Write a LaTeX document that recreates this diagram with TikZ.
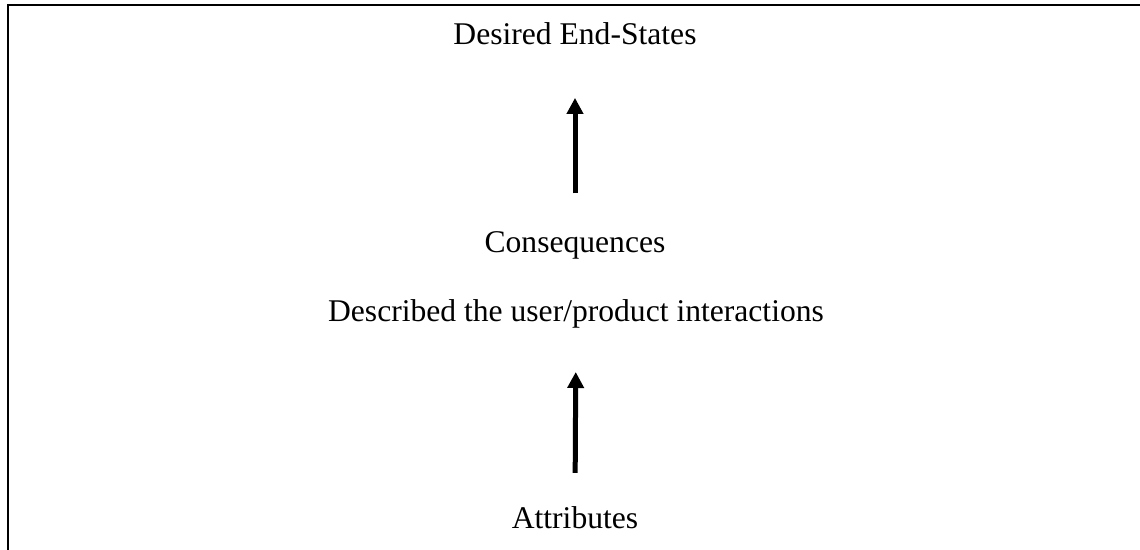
\documentclass[tikz,border=0pt]{standalone}
\usepackage{fontspec}
\setmainfont{Liberation Serif}
\usetikzlibrary{arrows.meta}
\begin{document}
\begin{tikzpicture}[x=0.75pt,y=-0.75pt,
  label/.style={inner sep=0pt,anchor=base,font=\fontsize{23.7}{28}\selectfont},
  uparrow/.style={line width=3.75pt,-{Triangle[length=12pt,width=12pt]}},
  frame/.style={line width=1.5pt}]
\useasboundingbox (0,0) rectangle (1140,550);
% open frame: top and left edges only
\draw[frame] (7.5,550) -- (7.5,5) -- (1140,5);
% levels of the chain
\node[label] (ends) at (575,44) {Desired End-States};
\node[label] (cons) at (575,252) {Consequences};
\node[label] (desc) at (576,321) {Described the user/product interactions};
\node[label] (attr) at (575,528) {Attributes};
% links between levels
\draw[uparrow,shorten <=28pt,shorten >=40pt] (cons.north) -- (ends.south);
\draw[uparrow,shorten <=24.75pt,shorten >=33pt] (attr.north) -- (desc.south);
\end{tikzpicture}
\end{document}
